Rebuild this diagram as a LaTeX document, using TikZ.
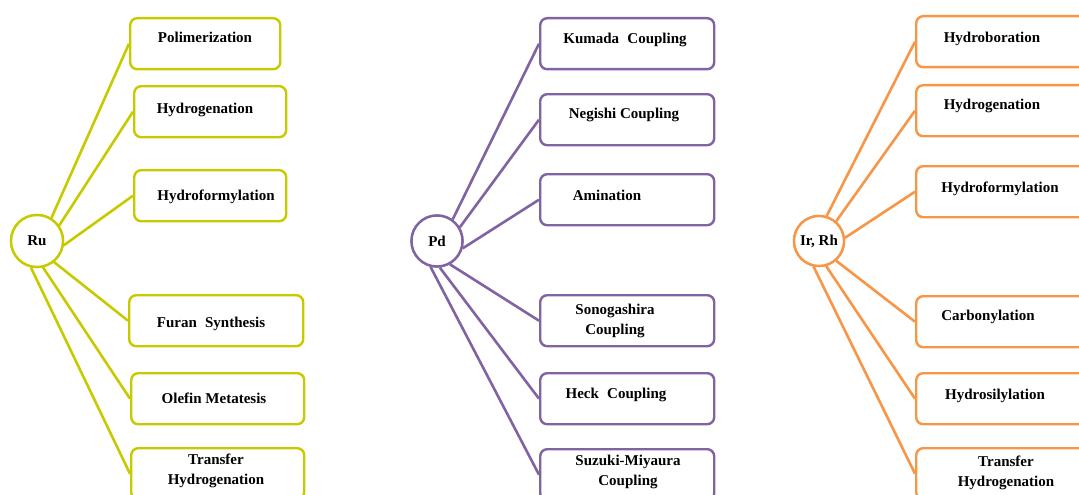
\documentclass[tikz,border=0pt]{standalone}
\usepackage{fontspec}
\setmainfont{Liberation Serif}
\definecolor{rucol}{RGB}{200,202,0}
\definecolor{pdcol}{RGB}{128,100,162}
\definecolor{ircol}{RGB}{247,150,70}
\tikzset{
  box/.style={draw, rounded corners=7pt, line width=2.4pt, fill=white, anchor=north west, minimum height=51pt, inner sep=0pt},
  hub/.style={draw, circle, line width=2.4pt, fill=white, minimum size=51pt, inner sep=0pt, font=\fontsize{15}{18}\selectfont\bfseries},
  lbl/.style={font=\fontsize{15}{20}\selectfont\bfseries, inner sep=0pt, anchor=base},
  lbltwo/.style={font=\fontsize{15}{20}\selectfont\bfseries, inner sep=0pt, anchor=center, align=center},
  link/.style={line width=2.6pt}
}
\begin{document}
\begin{tikzpicture}[x=1pt,y=-1pt]
\useasboundingbox (0,0) rectangle (1079,495);
\clip (0,0) rectangle (1079,495);
\fill[white] (0,0) rectangle (1079,495);

% ---------------- Ru ----------------
\begin{scope}[rucol]
\node[box, minimum width=150pt] (ru1) at (129,17) {};
\node[box, minimum width=152pt] (ru2) at (133,85) {};
\node[box, minimum width=152pt] (ru3) at (133,169) {};
\node[box, minimum width=174pt] (ru4) at (128,294) {};
\node[box, minimum width=173pt] (ru5) at (130,372) {};
\node[box, minimum width=173pt] (ru6) at (130,447) {};
\coordinate (ruc) at (37,241);
\node[hub, minimum size=52pt] (ru) at (ruc) {};
\draw[link] (ru.58) -- (ru1.west);
\draw[link] (ru.35) -- (ru2.west);
\draw[link] (ru.-9) -- (ru3.west);
\draw[link] (ru.-51) -- (ru4.west);
\draw[link] (ru.-77) -- (ru5.west);
\draw[link] (ru.-103) -- (ru6.west);
\node[hub, minimum size=52pt, text=black] (ruh) at (ruc) {Ru};
\end{scope}
\node[lbl] (t1) at (205,43) {Polimerization};
\node[lbl] (t2) at (205,113) {Hydrogenation};
\node[lbl] (t3) at (216,200) {Hydroformylation};
\node[lbl] (t4) at (211,327) {Furan\hspace{0.3em} Synthesis};
\node[lbl] (t5) at (214,403) {Olefin Metatesis};
\node[lbltwo] (t6) at (216,471) {Transfer\\Hydrogenation};

% ---------------- Pd ----------------
\begin{scope}[pdcol]
\node[box, minimum width=174pt] (pd1) at (539,17) {};
\node[box, minimum width=174pt] (pd2) at (539,93) {};
\node[box, minimum width=174pt] (pd3) at (539,173) {};
\node[box, minimum width=174pt] (pd4) at (539,294) {};
\node[box, minimum width=174pt] (pd5) at (539,372) {};
\node[box, minimum width=174pt] (pd6) at (539,448) {};
\coordinate (pdc) at (437,241);
\node[hub] (pd) at (pdc) {};
\draw[link] (pd.54) -- (pd1.west);
\draw[link] (pd.31) -- (pd2.west);
\draw[link] (pd.-16) -- (pd3.west);
\draw[link] (pd.-61) -- (pd4.west);
\draw[link] (pd.-84) -- (pd5.west);
\draw[link] (pd.-104) -- (pd6.west);
\node[hub, text=black] (pdh) at (pdc) {Pd};
\end{scope}
\node[lbl] (s1) at (625,44) {Kumada\hspace{0.3em} Coupling};
\node[lbl] (s2) at (624,118) {Negishi Coupling};
\node[lbl] (s3) at (607,200) {Amination};
\node[lbltwo] (s4) at (615,321) {Sonogashira\\Coupling};
\node[lbl] (s5) at (616,398) {Heck\hspace{0.3em} Coupling};
\node[lbltwo] (s6) at (628,472) {Suzuki-Miyaura\\Coupling};

% ---------------- Ir, Rh ----------------
\begin{scope}[ircol]
\node[box, minimum width=174pt] (ir1) at (915,15) {};
\node[box, minimum width=174pt] (ir2) at (915,84) {};
\node[box, minimum width=174pt] (ir3) at (915,165) {};
\node[box, minimum width=174pt] (ir4) at (915,295) {};
\node[box, minimum width=174pt] (ir5) at (915,372) {};
\node[box, minimum width=174pt] (ir6) at (915,447) {};
\coordinate (irc) at (819,241);
\node[hub, minimum size=50pt] (ir) at (irc) {};
\draw[link] (ir.73) -- (ir1.west);
\draw[link] (ir.49) -- (ir2.west);
\draw[link] (ir.7) -- (ir3.west);
\draw[link] (ir.-49) -- (ir4.west);
\draw[link] (ir.-74) -- (ir5.west);
\draw[link] (ir.-102) -- (ir6.west);
\node[hub, minimum size=50pt, text=black] (irh) at (irc) {Ir, Rh};
\end{scope}
\node[lbl] (u1) at (992,43) {Hydroboration};
\node[lbl] (u2) at (992,109) {Hydrogenation};
\node[lbl] (u3) at (1000,192) {Hydroformylation};
\node[lbl] (u4) at (988,320) {Carbonylation};
\node[lbl] (u5) at (995,399) {Hydrosilylation};
\node[lbltwo] (u6) at (1006,473) {Transfer\\Hydrogenation};
\end{tikzpicture}
\end{document}
